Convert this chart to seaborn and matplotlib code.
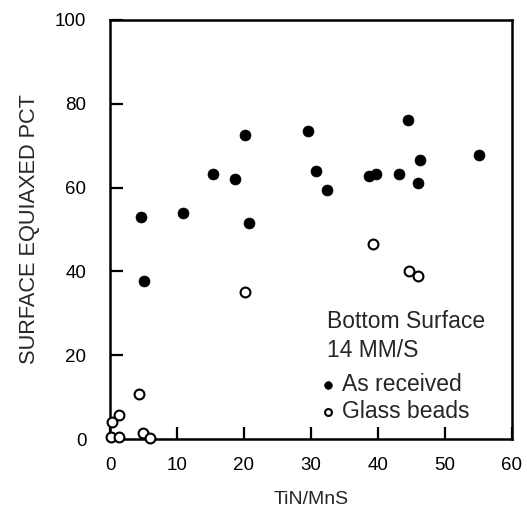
import numpy as np
import pandas as pd
import seaborn as sns
import matplotlib
matplotlib.use("Agg")
import matplotlib.pyplot as plt

# As received (filled circles)
recv_x = [4.7, 5.1, 10.9, 15.3, 18.6, 20.2, 20.8, 29.5, 30.7, 32.4, 38.6, 39.7, 43.1, 44.5, 46.0, 46.2, 55.0]
recv_y = [53.0, 37.8, 54.0, 63.2, 62.0, 72.5, 51.6, 73.4, 64.0, 59.4, 62.8, 63.2, 63.2, 76.2, 61.2, 66.5, 67.7]

# Glass beads (open circles)
glass_x = [20.1, 39.2, 44.7, 45.9, 4.3, 1.3, 0.3, 0.2, 1.4, 4.9, 5.9]
glass_y = [35.2, 46.6, 40.2, 38.8, 10.7, 5.8, 4.0, 0.5, 0.4, 1.5, 0.2]

x_ticks = [0, 10, 20, 30, 40, 50, 60]
y_ticks = [0, 20, 40, 60, 80, 100]

sns.set_style("ticks")
plt.rcParams['font.family'] = ['Liberation Sans', 'DejaVu Sans']

df_recv = pd.DataFrame({"x": recv_x, "y": recv_y})
df_glass = pd.DataFrame({"x": glass_x, "y": glass_y})

fig = plt.figure(figsize=(5.27, 5.11), dpi=100)
ax = fig.add_axes([110 / 527, 72 / 511, 402 / 527, 419 / 511])

sns.scatterplot(data=df_recv, x="x", y="y", ax=ax, s=62, color="black",
                edgecolor="black", linewidth=0.5, label="As received", clip_on=False, zorder=3)
sns.scatterplot(data=df_glass, x="x", y="y", ax=ax, s=50, facecolor="white",
                edgecolor="black", linewidth=1.5, label="Glass beads", clip_on=False, zorder=3)

ax.set_xlim(0, 60)
ax.set_ylim(0, 100)
ax.set_xticks(x_ticks)
ax.set_yticks(y_ticks)
ax.tick_params(direction="in", length=9, width=1.6, labelsize=13.5, colors="black")
ax.tick_params(axis="y", pad=17)
ax.tick_params(axis="x", pad=13)
for sp in ax.spines.values():
    sp.set_linewidth(1.8)
    sp.set_color("black")

ax.set_xlabel("TiN/MnS", fontsize=14, labelpad=12)
ax.set_ylabel("SURFACE EQUIAXED PCT", fontsize=15.7, labelpad=11)

# legend title lines
ax.text(0.540, 0.2816, "Bottom Surface", transform=ax.transAxes, fontsize=16.5,
        ha="left", va="center")
ax.text(0.540, 0.2124, "14 MM/S", transform=ax.transAxes, fontsize=16.5,
        ha="left", va="center")

leg = ax.legend(loc="center left", bbox_to_anchor=(0.542, 0.098), frameon=False,
                fontsize=16.5, borderpad=0, borderaxespad=0, handletextpad=0.6,
                handlelength=0, labelspacing=0.2, markerscale=0.7)

fig.savefig("out.png", dpi=100)
